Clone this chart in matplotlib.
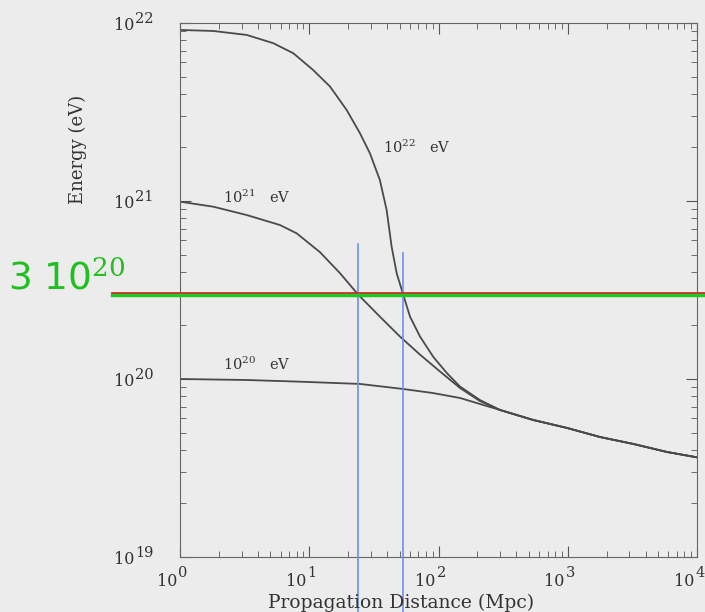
import matplotlib
matplotlib.use("Agg")
import matplotlib.pyplot as plt

plt.rcParams['font.family'] = ['DejaVu Serif']
plt.rcParams['mathtext.fontset'] = 'dejavuserif'

# Propagation distance (Mpc) and energy (eV)
dist_22 = [1, 1.81, 3.28, 5.27, 7.53, 10.7, 14.5, 19.5, 24.7, 29.5, 35.2, 39.7,
           43.4, 47.5, 53.4, 60.2, 72.0, 91.2, 116, 147, 209, 299]
energy_22 = [9.14e21, 9.02e21, 8.57e21, 7.70e21, 6.76e21, 5.45e21, 4.39e21, 3.24e21,
             2.40e21, 1.85e21, 1.31e21, 8.9e20, 5.53e20, 3.92e20, 2.97e20,
             2.24e20, 1.73e20, 1.33e20, 1.08e20, 9.06e19, 7.62e19, 6.7e19]

dist_21 = [1, 1.81, 3.28, 5.93, 8.0, 12.1, 17.3, 24.0, 35.2, 50.4, 72.0, 103,
           147, 209, 299]
energy_21 = [9.91e20, 9.29e20, 8.34e20, 7.33e20, 6.58e20, 5.16e20, 3.93e20,
             2.97e20, 2.24e20, 1.73e20, 1.37e20, 1.10e20, 8.89e19, 7.52e19, 6.7e19]

dist_20 = [1, 3.30, 8.48, 24.7, 53.1, 90.6, 147, 209, 299]
energy_20 = [1.0e20, 9.87e19, 9.66e19, 9.38e19, 8.79e19, 8.34e19, 7.82e19, 7.24e19, 6.7e19]

# common tail where the three curves merge
dist_tail = [538, 986, 1778, 3199, 5861, 10000]
energy_tail = [5.89e19, 5.31e19, 4.72e19, 4.32e19, 3.89e19, 3.63e19]

curve_labels = ["$10^{22}$   eV", "$10^{21}$   eV", "$10^{20}$   eV"]
label_pos = [(37.2, 1.86e21), (2.15, 9.75e20), (2.15, 1.12e20)]

x_exponents = [0, 1, 2, 3, 4]
y_exponents = [19, 20, 21, 22]

# hand-drawn marks
cut_energy = 3e20
cut_dists = [24, 53]
cut_tops = [5.7e20, 5.1e20]

bg = '#ececec'
fig = plt.figure(figsize=(7.05, 6.12), dpi=100, facecolor=bg)
ax = fig.add_axes([180 / 705, 1 - 557 / 612, 517 / 705, 534 / 612], facecolor=bg)

ink = '#4a4a4a'
for d, e in [(dist_22, energy_22), (dist_21, energy_21), (dist_20, energy_20)]:
    ax.plot(d + dist_tail, e + energy_tail, color=ink, lw=1.3)

ax.set_xscale('log')
ax.set_yscale('log')
ax.set_xlim(1, 1e4)
ax.set_ylim(1e19, 1e22)

for txt, (lx, ly) in zip(curve_labels, label_pos):
    ax.text(lx, ly, txt, fontsize=10.5, color='#333333', va='baseline')

# horizontal cut at 3e20 (red over green), running past the frame
ax.plot([0.3, 11500], [cut_energy * 1.02, cut_energy * 1.02], color='#d02828', lw=2,
        clip_on=False, zorder=5)
ax.plot([0.3, 11500], [cut_energy * 0.985, cut_energy * 0.985], color='#22c822', lw=2.5,
        clip_on=False, zorder=6)

# vertical blue marks down past the bottom
for xd, top in zip(cut_dists, cut_tops):
    ax.plot([xd, xd], [top, 4.8e18], color='#6a90f0', lw=1.2, clip_on=False, zorder=4)

fig.text(8 / 705, 1 - 290 / 612, "3 10$^{20}$", fontsize=27, color='#1fc01f',
         fontfamily='DejaVu Sans')

for s in ax.spines.values():
    s.set_color('#666666')
ax.tick_params(which='both', direction='in', top=True, right=True, colors='#555555',
               labelbottom=False, labelleft=False)
ax.tick_params(which='major', length=8)
ax.tick_params(which='minor', length=4)
ax.set_xticks([10.0 ** k for k in x_exponents])
ax.set_yticks([10.0 ** k for k in y_exponents])

# tick labels drawn as "10" with a near full-size raised exponent
lab = dict(color='#333333', textcoords='offset pixels', va='baseline', annotation_clip=False)
for k in x_exponents:
    ax.annotate("10", xy=(10.0 ** k, 0), xycoords=('data', 'axes fraction'),
                xytext=(-3, -29), ha='right', fontsize=11.5, **lab)
    ax.annotate(str(k), xy=(10.0 ** k, 0), xycoords=('data', 'axes fraction'),
                xytext=(-2, -20), ha='left', fontsize=10.5, **lab)
for k in y_exponents:
    ax.annotate("10", xy=(0, 10.0 ** k), xycoords=('axes fraction', 'data'),
                xytext=(-46, -7), ha='right', fontsize=11.5, **lab)
    ax.annotate(str(k), xy=(0, 10.0 ** k), xycoords=('axes fraction', 'data'),
                xytext=(-45, 0), ha='left', fontsize=10.5, **lab)

fig.text(401 / 705, 1 - 608 / 612, "Propagation Distance (Mpc)", fontsize=13.5,
         color='#333333', ha='center', va='baseline')
fig.text(78 / 705, 1 - 149 / 612, "Energy (eV)", fontsize=13, color='#333333',
         ha='center', va='center', rotation=90)

fig.savefig("out.png", dpi=100, facecolor=bg)
